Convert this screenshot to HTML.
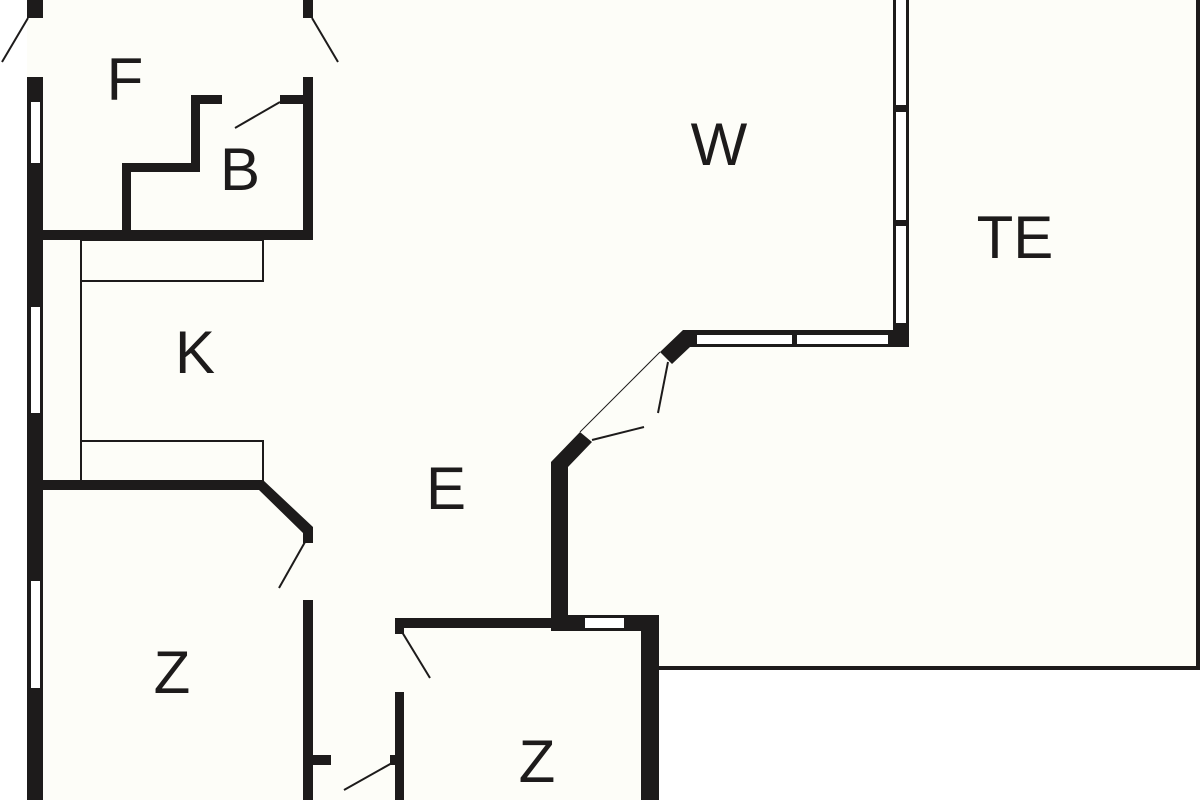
<!DOCTYPE html>
<html><head><style>html,body{margin:0;padding:0;background:#fff}svg{display:block}text{font-family:"Liberation Sans",sans-serif;font-size:60px;fill:#1d1b1b;text-anchor:middle}</style></head>
<body>
<svg width="1200" height="800" viewBox="0 0 1200 800" xmlns="http://www.w3.org/2000/svg">
<rect x="0" y="0" width="1200" height="800" fill="#fdfdf8"/>
<rect x="0" y="0" width="27" height="800" fill="#fff"/>
<rect x="659" y="669" width="541" height="131" fill="#fff"/>
<g fill="#1d1b1b">
<!-- left outer wall -->
<rect x="27" y="0" width="16" height="18"/>
<rect x="27" y="77" width="16" height="723"/>
<rect x="303" y="0" width="10" height="18"/>
<!-- F / B walls -->
<rect x="303" y="77" width="10" height="163"/>
<rect x="43" y="230" width="270" height="10"/>
<rect x="122" y="163" width="9" height="77"/>
<rect x="122" y="163" width="78" height="9"/>
<rect x="191" y="95" width="9" height="77"/>
<rect x="191" y="95" width="31" height="9"/>
<rect x="280" y="95" width="33" height="9"/>
<!-- K/Z wall -->
<rect x="43" y="480" width="220" height="10"/>
<polygon points="263,480 313,527 313,543 303,543 303,533 259,490"/>
<rect x="303" y="600" width="10" height="200"/>
<rect x="313" y="755" width="18" height="10"/>
<rect x="390" y="755" width="13" height="10"/>
<!-- Z2 -->
<rect x="395" y="618" width="9" height="16"/>
<rect x="395" y="692" width="9" height="108"/>
<rect x="395" y="618" width="160" height="10"/>
<rect x="551" y="615" width="108" height="16"/>
<rect x="641" y="615" width="18" height="185"/>
<!-- E thick wall -->
<rect x="551" y="462" width="17" height="153"/>
<polygon points="551,462 580,432 592,442 568,467 568,470 551,470"/>
<polygon points="660,352 683,330 908,330 908,347 690,347 672,364"/>
<rect x="893" y="0" width="16" height="347"/>
</g>
<!-- windows -->
<g fill="#fff">
<rect x="31" y="102" width="9" height="61"/>
<rect x="31" y="307" width="9" height="106"/>
<rect x="31" y="581" width="9" height="107"/>
<rect x="585" y="618" width="39" height="10"/>
<rect x="697" y="335" width="95" height="9"/>
<rect x="797" y="335" width="91" height="9"/>
<rect x="896" y="0" width="10" height="105"/>
<rect x="896" y="112" width="10" height="108"/>
<rect x="896" y="226" width="10" height="97"/>
</g>
<!-- counters -->
<g fill="none" stroke="#1d1b1b" stroke-width="2">
<rect x="81" y="240" width="182" height="41"/>
<rect x="81" y="441" width="182" height="41"/>
<line x1="81" y1="240" x2="81" y2="481"/>
</g>
<!-- door swings -->
<g stroke="#1d1b1b" stroke-width="2">
<line x1="28" y1="18" x2="2" y2="62"/>
<line x1="312" y1="18" x2="338" y2="62"/>
<line x1="280" y1="102" x2="235" y2="128"/>
<line x1="305" y1="542" x2="279" y2="588"/>
<line x1="392" y1="763" x2="344" y2="790"/>
<line x1="402" y1="632" x2="430" y2="678"/>
<line x1="668" y1="362" x2="658" y2="413"/>
<line x1="592" y1="440" x2="644" y2="427"/>
<line x1="580" y1="432" x2="660" y2="352" stroke-width="1"/>
</g>
<!-- terrace outline -->
<g stroke="#1d1b1b" stroke-width="4" fill="none">
<polyline points="659,668 1198,668 1198,0"/>
</g>
<text x="125" y="100">F</text>
<text x="240" y="190">B</text>
<text x="719" y="165">W</text>
<text x="1015" y="258">TE</text>
<text x="195" y="373">K</text>
<text x="446" y="509">E</text>
<text x="172" y="693">Z</text>
<text x="537" y="782">Z</text>
</svg>
</body></html>
